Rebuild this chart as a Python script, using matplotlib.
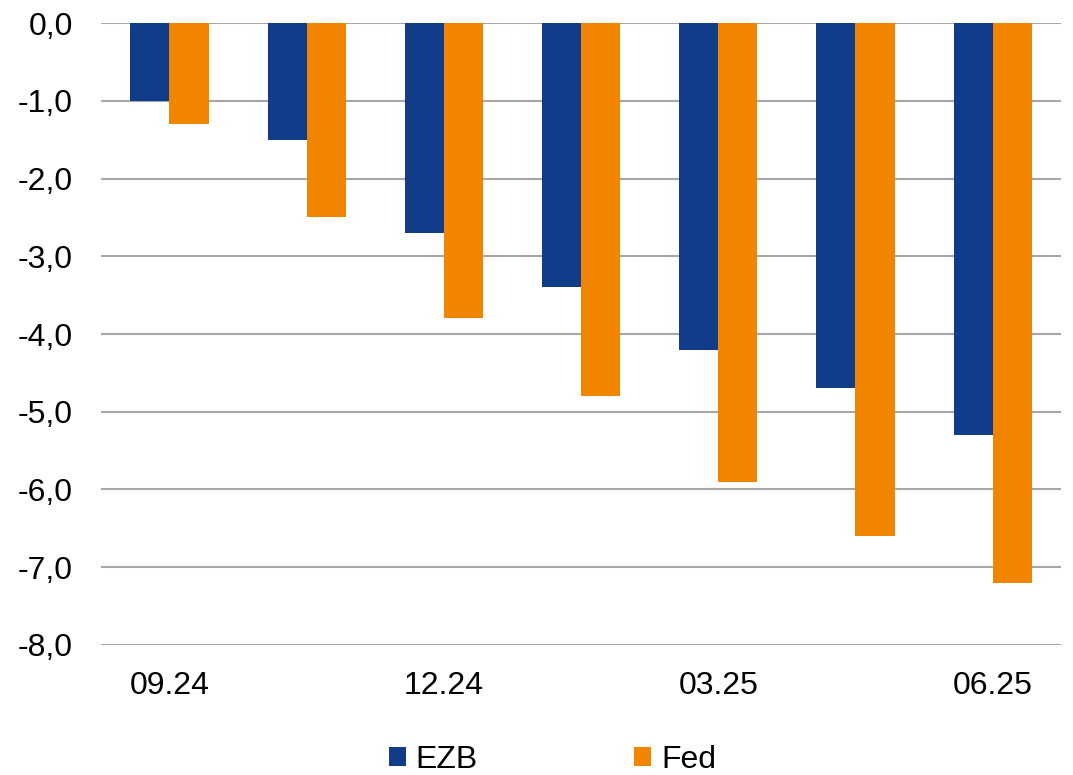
import numpy as np
import matplotlib.pyplot as plt
from matplotlib.ticker import FuncFormatter

plt.rcParams['font.family'] = ['Liberation Sans', 'DejaVu Sans']

categories = ["09.24", "", "12.24", "", "03.25", "", "06.25"]
ezb = [-1.0, -1.5, -2.7, -3.4, -4.2, -4.7, -5.3]
fed = [-1.3, -2.5, -3.8, -4.8, -5.9, -6.6, -7.2]

blue = "#113C8A"
orange = "#F28500"

fig = plt.figure(figsize=(10.73, 7.75), dpi=100)
ax = fig.add_axes([0.094, 0.168, 0.895, 0.802])

x = np.arange(len(categories))
w = 0.285
ax.bar(x - w / 2, ezb, w, color=blue, label="EZB", zorder=3)
ax.bar(x + w / 2, fed, w, color=orange, label="Fed", zorder=3)

ax.set_xlim(-0.5, len(categories) - 0.5)
ax.set_ylim(-8, 0)
ax.set_yticks(np.arange(-8, 1, 1))
ax.yaxis.set_major_formatter(FuncFormatter(lambda v, p: f"{v:.1f}".replace(".", ",")))
ax.set_xticks(x)
ax.set_xticklabels(categories)
ax.grid(axis="y", color="#A6A6A6", linewidth=1.5, zorder=0)
ax.tick_params(axis="both", length=0, labelsize=23)
ax.tick_params(axis="y", pad=20)
ax.tick_params(axis="x", pad=19)
for s in ax.spines.values():
    s.set_visible(False)

fig.legend(loc="center", bbox_to_anchor=(0.515, 0.02), ncol=2, frameon=False,
           fontsize=23, handlelength=0.53, handleheight=0.53, handletextpad=0.31,
           columnspacing=4.9)

fig.savefig("out.png", dpi=100)
